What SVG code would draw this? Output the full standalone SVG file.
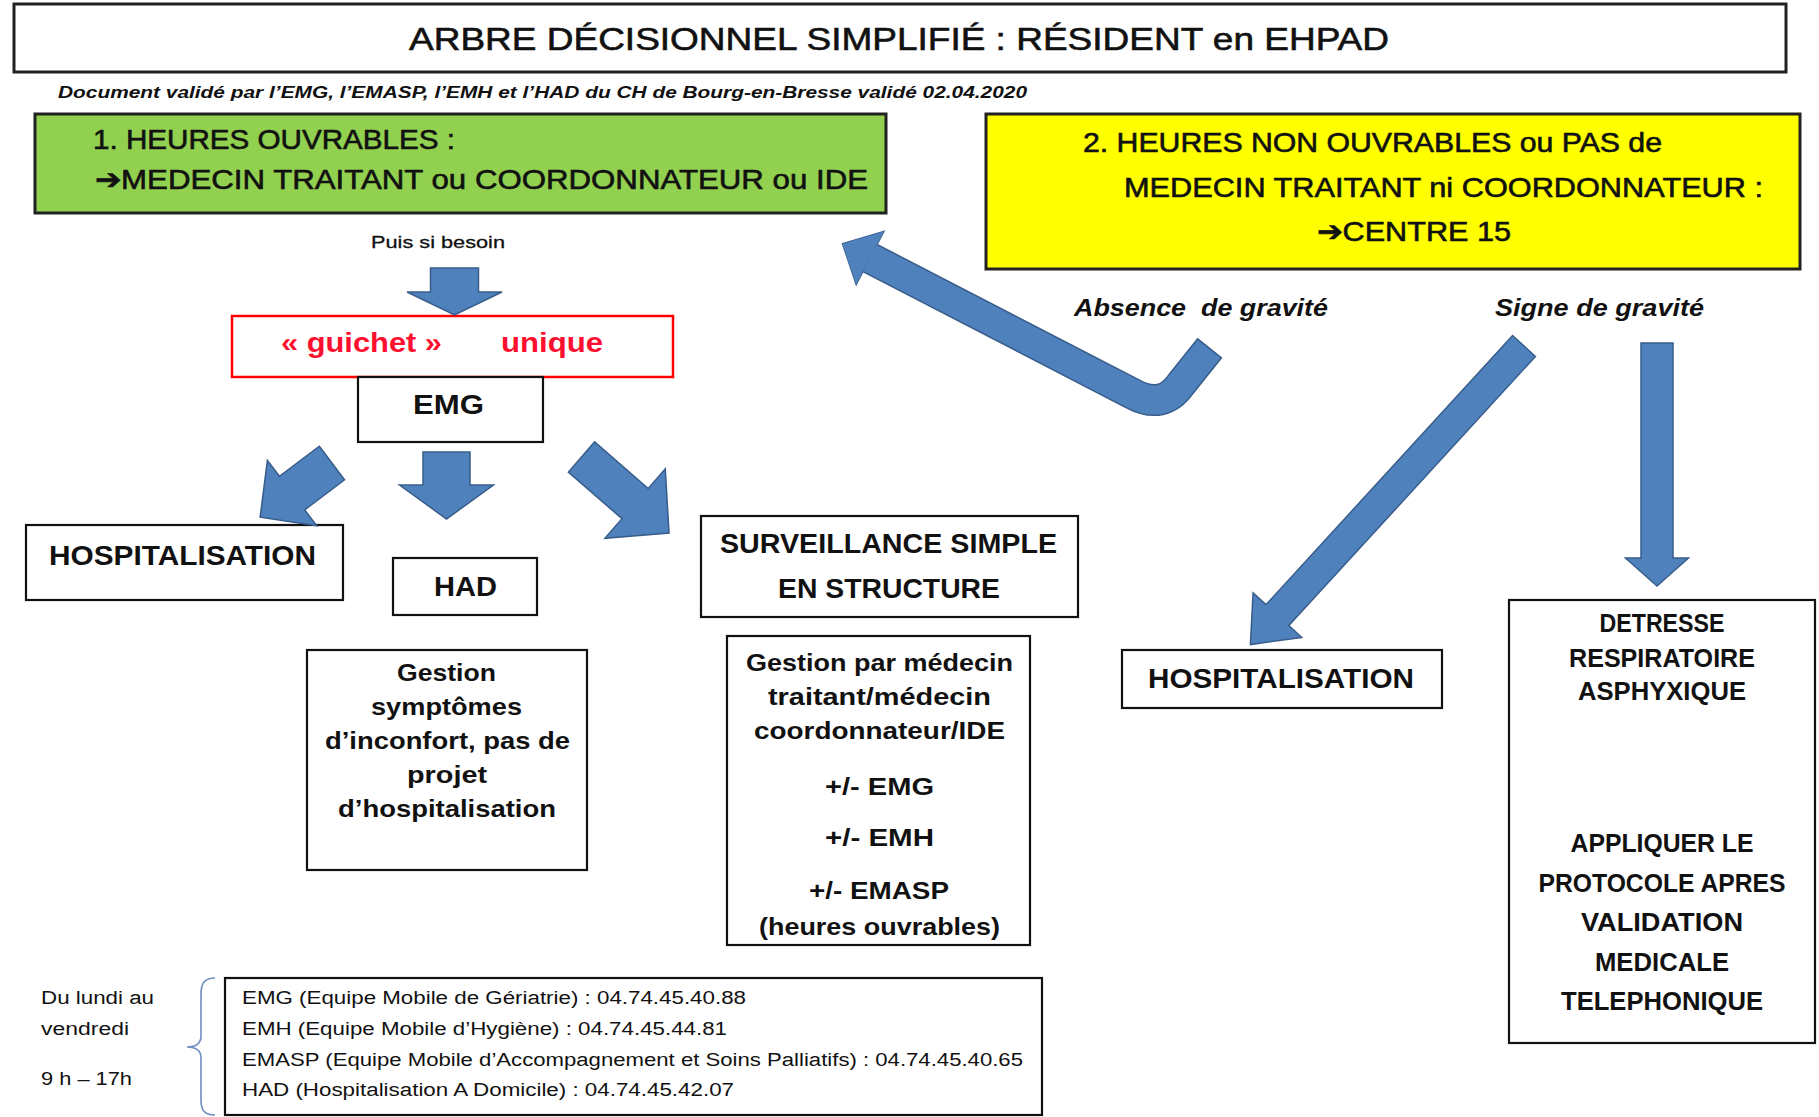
<svg xmlns="http://www.w3.org/2000/svg" width="1819" height="1117" viewBox="0 0 1819 1117">
<style>
text{font-family:"Liberation Sans",Arial,sans-serif;fill:#111;}
.b{font-weight:bold;}
.hd{stroke:#111;stroke-width:0.6;}
.box{fill:#fff;stroke:#111;stroke-width:2.2;}
.hbox{stroke:#222;stroke-width:3;}
.arr{fill:#4F81BD;stroke:#385D8A;stroke-width:1.5;}
.sm{font-size:18px;}
</style>
<rect width="1819" height="1117" fill="#fff"/>
<g id="title">
<rect class="box hbox" x="14" y="4" width="1772" height="68"/>
<text class="hd" x="409" y="49.5" font-size="32" textLength="980" lengthAdjust="spacingAndGlyphs">ARBRE DÉCISIONNEL SIMPLIFIÉ : RÉSIDENT en EHPAD</text>
</g>
<g id="subtitle">
<text x="58" y="98" font-size="16" font-style="italic" font-weight="bold" textLength="969" lengthAdjust="spacingAndGlyphs">Document validé par l’EMG, l’EMASP, l’EMH et l’HAD du CH de Bourg-en-Bresse validé 02.04.2020</text>
</g>
<g id="heures-ouvrables">
<rect class="hbox" x="35" y="114" width="851" height="99" fill="#92D050"/>
<text class="hd" x="93" y="149" font-size="27.5" textLength="362" lengthAdjust="spacingAndGlyphs">1. HEURES OUVRABLES :</text>
<text class="hd" x="95" y="189" font-size="27.5" textLength="773" lengthAdjust="spacingAndGlyphs">➔MEDECIN TRAITANT ou COORDONNATEUR ou IDE</text>
</g>
<g id="heures-non-ouvrables">
<rect class="hbox" x="986" y="114" width="814" height="155" fill="#FFFF00"/>
<text class="hd" x="1083" y="151.5" font-size="27.5" textLength="579" lengthAdjust="spacingAndGlyphs">2. HEURES NON OUVRABLES ou PAS de</text>
<text class="hd" x="1124" y="197" font-size="27.5" textLength="639" lengthAdjust="spacingAndGlyphs">MEDECIN TRAITANT ni COORDONNATEUR :</text>
<text class="hd" x="1317" y="241" font-size="27.5" textLength="194" lengthAdjust="spacingAndGlyphs">➔CENTRE 15</text>
</g>
<g id="puis-si-besoin">
<text x="371" y="248" font-size="17" textLength="134" lengthAdjust="spacingAndGlyphs" stroke="#111" stroke-width="0.3">Puis si besoin</text>
</g>
<g id="guichet-unique">
<rect x="232" y="316" width="441" height="61" fill="#fff" stroke="#FF0000" stroke-width="2.5"/>
<text class="b" y="352" font-size="28" style="fill:#FF0F2F"><tspan x="281" textLength="161" lengthAdjust="spacingAndGlyphs">« guichet »</tspan><tspan x="501" textLength="102" lengthAdjust="spacingAndGlyphs">unique</tspan></text>
</g>
<g id="emg">
<rect class="box" x="358" y="377" width="185" height="65"/>
<text class="b" x="413" y="414" font-size="27" textLength="71" lengthAdjust="spacingAndGlyphs">EMG</text>
</g>
<g id="hospitalisation-1">
<rect class="box" x="26" y="525" width="317" height="75"/>
<text class="b" x="49" y="565" font-size="28" textLength="267" lengthAdjust="spacingAndGlyphs">HOSPITALISATION</text>
</g>
<g id="had">
<rect class="box" x="393" y="558" width="144" height="57"/>
<text class="b" x="434" y="596" font-size="28" textLength="63" lengthAdjust="spacingAndGlyphs">HAD</text>
</g>
<g id="surveillance">
<rect class="box" x="701" y="516" width="377" height="101"/>
<text class="b" x="720" y="553" font-size="27" textLength="337" lengthAdjust="spacingAndGlyphs">SURVEILLANCE SIMPLE</text>
<text class="b" x="778" y="598" font-size="27" textLength="222" lengthAdjust="spacingAndGlyphs">EN STRUCTURE</text>
</g>
<g id="gestion-symptomes">
<rect class="box" x="307" y="650" width="280" height="220"/>
<g class="b" font-size="24">
<text x="397" y="681" textLength="99" lengthAdjust="spacingAndGlyphs">Gestion</text>
<text x="371" y="715" textLength="151" lengthAdjust="spacingAndGlyphs">symptômes</text>
<text x="325" y="749" textLength="245" lengthAdjust="spacingAndGlyphs">d’inconfort, pas de</text>
<text x="407" y="783" textLength="80" lengthAdjust="spacingAndGlyphs">projet</text>
<text x="338" y="817" textLength="218" lengthAdjust="spacingAndGlyphs">d’hospitalisation</text>
</g>
</g>
<g id="gestion-medecin">
<rect class="box" x="727" y="636" width="303" height="309"/>
<g class="b" font-size="24">
<text x="746" y="671" textLength="267" lengthAdjust="spacingAndGlyphs">Gestion par médecin</text>
<text x="768" y="705" textLength="223" lengthAdjust="spacingAndGlyphs">traitant/médecin</text>
<text x="754" y="739" textLength="251" lengthAdjust="spacingAndGlyphs">coordonnateur/IDE</text>
<text x="825" y="795" textLength="109" lengthAdjust="spacingAndGlyphs">+/- EMG</text>
<text x="825" y="846" textLength="109" lengthAdjust="spacingAndGlyphs">+/- EMH</text>
<text x="809" y="899" textLength="140" lengthAdjust="spacingAndGlyphs">+/- EMASP</text>
<text x="759" y="935" textLength="241" lengthAdjust="spacingAndGlyphs">(heures ouvrables)</text>
</g>
</g>
<g id="absence-gravite">
<text x="1074" y="316" font-size="24" font-style="italic" font-weight="bold" xml:space="preserve" textLength="254" lengthAdjust="spacingAndGlyphs">Absence  de gravité</text>
</g>
<g id="signe-gravite">
<text x="1495" y="316" font-size="24" font-style="italic" font-weight="bold" textLength="209" lengthAdjust="spacingAndGlyphs">Signe de gravité</text>
</g>
<g id="hospitalisation-2">
<rect class="box" x="1122" y="650" width="320" height="58"/>
<text class="b" x="1148" y="688" font-size="28" textLength="266" lengthAdjust="spacingAndGlyphs">HOSPITALISATION</text>
</g>
<g id="detresse">
<rect class="box" x="1509" y="600" width="306" height="443"/>
<g class="b" font-size="25" text-anchor="middle">
<text x="1662" y="632" textLength="125" lengthAdjust="spacingAndGlyphs">DETRESSE</text>
<text x="1662" y="667" textLength="186" lengthAdjust="spacingAndGlyphs">RESPIRATOIRE</text>
<text x="1662" y="700" textLength="168" lengthAdjust="spacingAndGlyphs">ASPHYXIQUE</text>
<text x="1662" y="852" textLength="183" lengthAdjust="spacingAndGlyphs">APPLIQUER LE</text>
<text x="1662" y="892" textLength="247" lengthAdjust="spacingAndGlyphs">PROTOCOLE APRES</text>
<text x="1662" y="931" textLength="162" lengthAdjust="spacingAndGlyphs">VALIDATION</text>
<text x="1662" y="971" textLength="134" lengthAdjust="spacingAndGlyphs">MEDICALE</text>
<text x="1662" y="1010" textLength="202" lengthAdjust="spacingAndGlyphs">TELEPHONIQUE</text>
</g>
</g>
<g id="horaires">
<text class="sm" x="41" y="1004" textLength="113" lengthAdjust="spacingAndGlyphs">Du lundi au</text>
<text class="sm" x="41" y="1035" textLength="88" lengthAdjust="spacingAndGlyphs">vendredi</text>
<text class="sm" x="41" y="1085" textLength="91" lengthAdjust="spacingAndGlyphs">9 h – 17h</text>
<path d="M215,978 C204,978 201,984 201,994 L201,1036 C201,1043 196,1047 187,1047 C196,1047 201,1051 201,1058 L201,1100 C201,1110 204,1115 215,1115" fill="none" stroke="#6F8FC0" stroke-width="1.6"/>
</g>
<g id="contacts">
<rect class="box" x="225" y="978" width="817" height="137"/>
<text class="sm" x="242" y="1004" textLength="504" lengthAdjust="spacingAndGlyphs">EMG (Equipe Mobile de Gériatrie) : 04.74.45.40.88</text>
<text class="sm" x="242" y="1035" textLength="485" lengthAdjust="spacingAndGlyphs">EMH (Equipe Mobile d’Hygiène) : 04.74.45.44.81</text>
<text class="sm" x="242" y="1066" textLength="781" lengthAdjust="spacingAndGlyphs">EMASP (Equipe Mobile d’Accompagnement et Soins Palliatifs) : 04.74.45.40.65</text>
<text class="sm" x="242" y="1096" textLength="492" lengthAdjust="spacingAndGlyphs">HAD (Hospitalisation A Domicile) : 04.74.45.42.07</text>
</g>
<g id="connectors">
<polygon class="arr" transform="translate(454.5,268) rotate(90)" points="0,-24 24,-24 24,-47.5 47,0 24,47.5 24,24 0,24"/>
<polygon class="arr" transform="translate(446.5,452) rotate(90)" points="0,-23.5 33,-23.5 33,-47 67,0 33,47 33,23.5 0,23.5"/>
<polygon class="arr" transform="translate(332,463) rotate(143)" points="0,-21 50,-21 50,-41 90,0 50,41 50,21 0,21"/>
<polygon class="arr" transform="translate(581.5,457) rotate(41)" points="0,-20 71,-20 71,-46 116,0 71,46 71,20 0,20"/>
<polygon class="arr" transform="translate(1524,346) rotate(132.5)" points="0,-15.5 365,-15.5 365,-33 405,0 365,33 365,15.5 0,15.5"/>
<polygon class="arr" transform="translate(1657,343) rotate(90)" points="0,-16 215,-16 215,-31.5 243,0 215,31.5 215,16 0,16"/>
<g id="bent-arrow">
<path d="M870,258 L1133,394 Q1163,410 1181,384 L1210,347.8" fill="none" stroke="#385D8A" stroke-width="32" stroke-linejoin="round"/>
<polygon class="arr" points="842.5,243.7 883.8,231.4 856.2,284.6"/>
<path d="M870,258 L1133,394 Q1163,410 1181,384 L1209,349" fill="none" stroke="#4F81BD" stroke-width="29" stroke-linejoin="round"/>
<polygon points="842.5,243.7 883.8,231.4 856.2,284.6" fill="#4F81BD"/>
</g>
</g>
</svg>
